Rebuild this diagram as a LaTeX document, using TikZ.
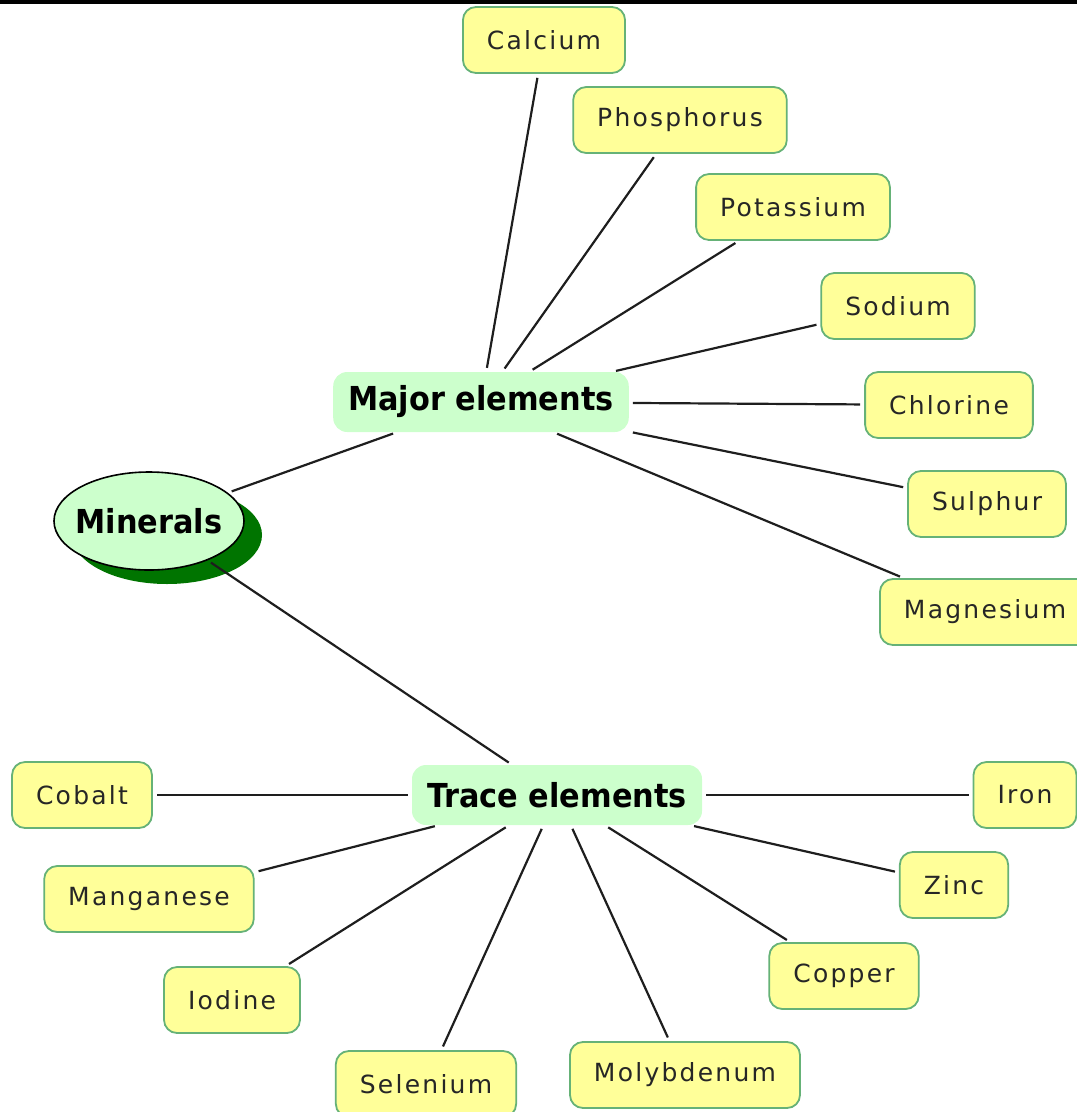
\documentclass[tikz,border=0pt]{standalone}
\usepackage{fontspec}
\setmainfont{DejaVu Sans}
\newfontfamily\leaffont[LetterSpace=9]{DejaVu Sans}
\newfontfamily\hubfont[FakeStretch=0.92]{DejaVu Sans}
\usetikzlibrary{shapes.geometric, shadows}

\definecolor{leafyellow}{HTML}{FFFF99}
\definecolor{leafline}{HTML}{66B277}
\definecolor{hubgreen}{HTML}{CCFFCC}
\definecolor{shadowgreen}{HTML}{007400}
\definecolor{linegray}{HTML}{1E1E1E}

\begin{document}
\begin{tikzpicture}[x=1pt, y=-1pt]
		\tikzset{
			leaf/.style={rectangle, rounded corners=13pt, draw=leafline, fill=leafyellow, line width=1.8pt, inner xsep=24pt, minimum height=66pt, text=black!85, font=\leaffont\fontsize{25}{28}\selectfont},
			hub/.style={rectangle, rounded corners=14pt, fill=hubgreen, inner xsep=15pt, minimum height=60pt, font=\hubfont\bfseries\fontsize{33}{38}\selectfont},
			root/.style={ellipse, draw=black, line width=1.6pt, fill=hubgreen, minimum width=190pt, minimum height=98pt, inner xsep=-8pt, inner ysep=0pt, font=\hubfont\bfseries\fontsize{33}{38}\selectfont, drop shadow={fill=shadowgreen, opacity=1, shadow xshift=18pt, shadow yshift=-14pt}},
			link/.style={draw=linegray, line width=2.2pt, shorten >=4pt, shorten <=4pt}
		}
		\useasboundingbox (0,0) rectangle (1077,1112);
		\fill[black] (0,0) rectangle (1077,4);

		\node[root] (minerals) at (149,521) {Minerals};
		\node[hub] (major) at (481,402) {Major elements};
		\node[hub] (trace) at (557,795) {Trace elements};

		% major elements
		\node[leaf] (calcium) at (544,40) {Calcium};
		\node[leaf] (phosphorus) at (680,120) {Phosphorus};
		\node[leaf] (potassium) at (793,207) {Potassium};
		\node[leaf] (sodium) at (898,306) {Sodium};
		\node[leaf] (chlorine) at (949,405) {Chlorine};
		\node[leaf] (sulphur) at (987,504) {Sulphur};
		\node[leaf] (magnesium) at (985,612) {Magnesium};

		% trace elements
		\node[leaf] (cobalt) at (82,795) {Cobalt};
		\node[leaf] (manganese) at (149,899) {Manganese};
		\node[leaf] (iodine) at (232,1000) {Iodine};
		\node[leaf] (selenium) at (426,1084) {Selenium};
		\node[leaf] (molybdenum) at (685,1075) {Molybdenum};
		\node[leaf] (copper) at (844,976) {Copper};
		\node[leaf] (zinc) at (954,885) {Zinc};
		\node[leaf] (iron) at (1025,795) {Iron};

		\draw[link] (minerals) -- (major);
		\draw[link] (minerals) -- (trace);

		\foreach \el in {calcium, phosphorus, potassium, sodium, chlorine, sulphur, magnesium}
			\draw[link] (major) -- (\el);
		\foreach \el in {cobalt, manganese, iodine, selenium, molybdenum, copper, zinc, iron}
			\draw[link] (trace) -- (\el);
	\end{tikzpicture}
\end{document}
